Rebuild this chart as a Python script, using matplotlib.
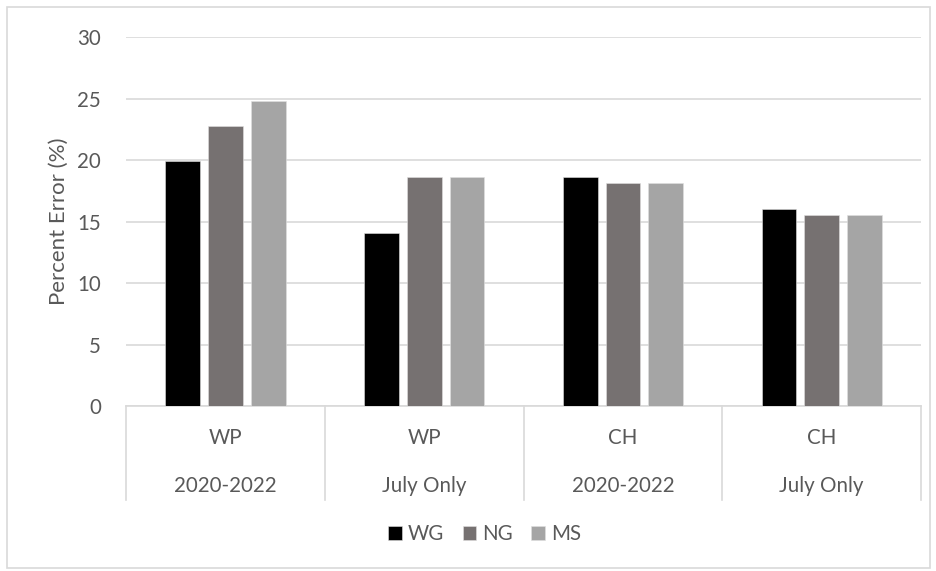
#!/usr/bin/env python3
# -*- coding: utf-8 -*-
"""
Percent error of the three methods for the WP and CH sites,
full period and July only.
"""

import matplotlib.pyplot as plt
from matplotlib.patches import Rectangle
import numpy as np

# Data
sites = ['WP', 'WP', 'CH', 'CH']
periods = ['2020-2022', 'July Only', '2020-2022', 'July Only']
series = ['WG', 'NG', 'MS']
wg = [19.9, 14.1, 18.6, 16.0]
ng = [22.75, 18.6, 18.1, 15.5]
ms = [24.8, 18.6, 18.1, 15.5]
yticks = [0, 5, 10, 15, 20, 25, 30]


def plotBars(fig, ax):
    """
    Grouped bars with an Excel-like two-row category axis
    """
    colors = ['#000000', '#767171', '#A5A5A5']
    txt = '#595959'
    grid = '#D9D9D9'
    fs = 14.8

    x = np.arange(len(sites))
    width = 0.175
    step = 0.215

    for i, (name, vals) in enumerate(zip(series, [wg, ng, ms])):
        ax.bar(x + (i - 1) * step, vals, width=width, color=colors[i],
               edgecolor='#e0e0e0', linewidth=0.4, label=name, zorder=3)

    ax.set_xlim(-0.5, len(sites) - 0.5)
    ax.set_ylim(0, 30)
    ax.set_yticks(yticks)
    ax.set_yticklabels([str(t) for t in yticks], color=txt, fontsize=fs)
    ax.tick_params(axis='y', length=0, pad=18)
    ax.set_xticks([])
    ax.grid(axis='y', color=grid, linewidth=1.2, zorder=0)

    for s in ['top', 'right', 'left']:
        ax.spines[s].set_visible(False)
    ax.spines['bottom'].set_color(grid)
    ax.spines['bottom'].set_linewidth(1.2)

    ax.set_ylabel('Percent Error (%)', color=txt, fontsize=16, labelpad=6)

    # two-row category axis with separators
    trans = ax.get_xaxis_transform()
    for b in np.arange(len(sites) + 1) - 0.5:
        ax.plot([b, b], [0, -0.255], transform=trans, color=grid,
                linewidth=1.2, clip_on=False)
    for xi, s, p in zip(x, sites, periods):
        ax.text(xi, -0.088, s, transform=trans, ha='center', va='center',
                color=txt, fontsize=fs)
        ax.text(xi, -0.218, p, transform=trans, ha='center', va='center',
                color=txt, fontsize=fs)

    ax.legend(loc='center', bbox_to_anchor=(0.451, -0.347), ncol=3,
              frameon=False, fontsize=fs, handlelength=0.65,
              handleheight=0.65, handletextpad=0.3, columnspacing=0.9,
              labelcolor=txt)

    # chart area border
    fig.patches.append(Rectangle((0.008, 0.006), 0.984, 0.982,
                                 transform=fig.transFigure, fill=False,
                                 edgecolor='#D9D9D9', linewidth=1.2))
    return


def main():
    plt.rcParams['font.family'] = ['Lato', 'DejaVu Sans']
    fig = plt.figure(figsize=(9.37, 5.71), dpi=100)
    ax = fig.add_axes([0.1345, 0.289, 0.8485, 0.646])
    plotBars(fig, ax)
    fig.savefig('out.png', dpi=100)


if __name__ == "__main__":
    main()
